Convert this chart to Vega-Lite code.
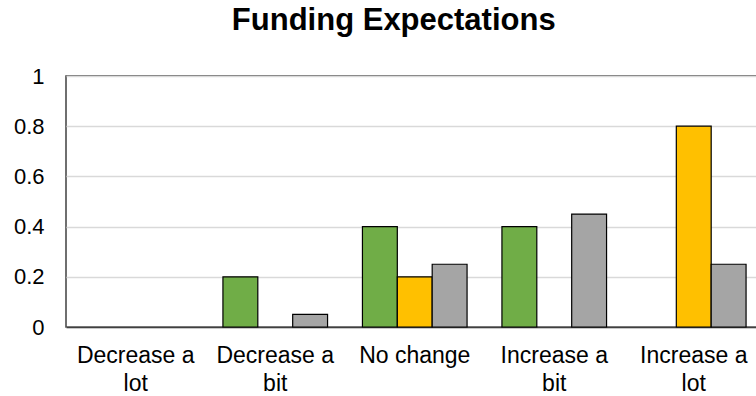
{
  "$schema": "https://vega.github.io/schema/vega-lite/v6.json",
  "autosize": {"type": "none"},
  "padding": {"left": 66, "top": 76, "right": 0, "bottom": 69},
  "width": 697.5,
  "height": 251,
  "background": "white",
  "title": {
    "text": "Funding Expectations",
    "font": "Liberation Sans",
    "fontSize": 31,
    "fontWeight": "bold",
    "color": "#000000",
    "anchor": "middle",
    "dx": -21,
    "offset": 28
  },
  "config": {
    "view": {"stroke": "#404040", "strokeWidth": 1.5},
    "font": "Liberation Sans"
  },
  "data": {
    "values": [
      {"category": "Decrease a lot", "series": "Series 1", "value": 0},
      {"category": "Decrease a lot", "series": "Series 2", "value": 0},
      {"category": "Decrease a lot", "series": "Series 3", "value": 0},
      {"category": "Decrease a bit", "series": "Series 1", "value": 0.2},
      {"category": "Decrease a bit", "series": "Series 2", "value": 0},
      {"category": "Decrease a bit", "series": "Series 3", "value": 0.05},
      {"category": "No change", "series": "Series 1", "value": 0.4},
      {"category": "No change", "series": "Series 2", "value": 0.2},
      {"category": "No change", "series": "Series 3", "value": 0.25},
      {"category": "Increase a bit", "series": "Series 1", "value": 0.4},
      {"category": "Increase a bit", "series": "Series 2", "value": 0},
      {"category": "Increase a bit", "series": "Series 3", "value": 0.45},
      {"category": "Increase a lot", "series": "Series 1", "value": 0},
      {"category": "Increase a lot", "series": "Series 2", "value": 0.8},
      {"category": "Increase a lot", "series": "Series 3", "value": 0.25}
    ]
  },
  "mark": {"type": "bar", "stroke": "#000000"},
  "encoding": {
    "x": {
      "field": "category",
      "type": "nominal",
      "sort": ["Decrease a lot", "Decrease a bit", "No change", "Increase a bit", "Increase a lot"],
      "scale": {"paddingInner": 0.25, "paddingOuter": 0.125},
      "axis": {
        "title": null,
        "labelAngle": 0,
        "ticks": false,
        "labelFontSize": 23,
        "labelColor": "#000000",
        "labelPadding": 17,
        "labelLineHeight": 28,
        "labelBaseline": "top",
        "labelOverlap": false,
        "domainColor": "#404040",
        "domainWidth": 1.5,
        "labelExpr": "datum.value == 'No change' ? datum.value : [substring(datum.value, 0, lastindexof(datum.value, ' ')), substring(datum.value, lastindexof(datum.value, ' ') + 1)]"
      }
    },
    "xOffset": {"field": "series", "type": "nominal", "scale": {"paddingInner": 0, "paddingOuter": 0}},
    "y": {
      "field": "value",
      "type": "quantitative",
      "scale": {"domain": [0, 1]},
      "axis": {
        "title": null,
        "values": [0, 0.2, 0.4, 0.6, 0.8, 1],
        "format": "~g",
        "ticks": false,
        "domain": false,
        "labelFontSize": 22,
        "labelColor": "#000000",
        "labelPadding": 22,
        "gridColor": "#d9d9d9",
        "gridWidth": 1.5
      }
    },
    "strokeWidth": {
      "condition": {"test": "datum.value == 0", "value": 0},
      "value": 1.2
    },
    "color": {
      "field": "series",
      "type": "nominal",
      "scale": {"range": ["#70AD47", "#FFC000", "#A5A5A5"]},
      "legend": null
    }
  }
}
